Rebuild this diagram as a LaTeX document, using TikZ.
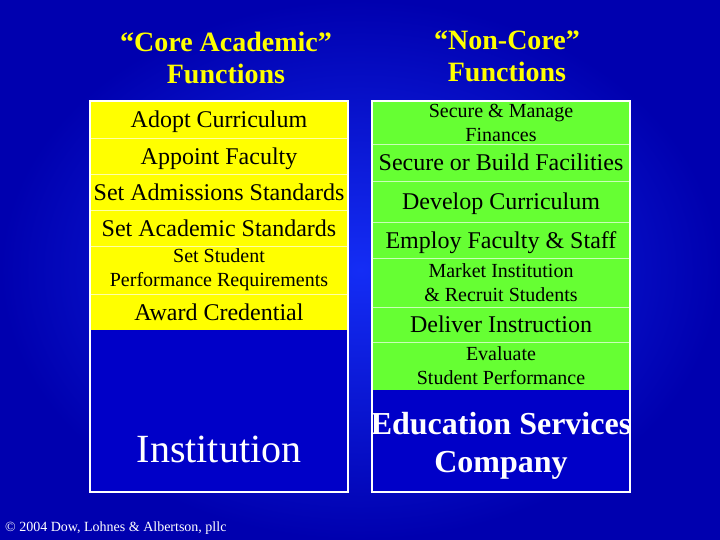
\documentclass[tikz,border=0pt]{standalone}
\usepackage{fontspec}
\setmainfont{Liberation Serif}
\usepackage{tikz}
\usetikzlibrary{positioning}
\usepackage{xcolor}
\definecolor{bgdark}{RGB}{0,0,175}
\definecolor{bglight}{RGB}{20,45,245}
\definecolor{boxblue}{RGB}{0,0,200}
\definecolor{coreyel}{RGB}{255,255,0}
\definecolor{noncore}{RGB}{102,255,51}
\tikzstyle{corerow} = [draw=coreyel!35!white, line width=0.8pt, fill=coreyel, minimum width=258pt, inner sep=0pt, outer sep=0pt, align=center, text=black]
\tikzstyle{ncrow} = [draw=noncore!35!white, line width=0.8pt, fill=noncore, minimum width=258pt, inner sep=0pt, outer sep=0pt, align=center, text=black]
\tikzstyle{bigrow} = [corerow, text depth=0pt, font=\fontsize{24}{28}\selectfont]
\tikzstyle{smallrow} = [corerow, font=\fontsize{20}{24}\selectfont]
\tikzstyle{ncbig} = [ncrow, text depth=0pt, font=\fontsize{24}{28}\selectfont]
\tikzstyle{ncsmall} = [ncrow, font=\fontsize{20}{24}\selectfont]
\tikzstyle{heading} = [text=coreyel, align=center, font=\fontsize{28}{32}\selectfont\bfseries]
\tikzstyle{outline} = [draw=white, line width=1.5pt]
\tikzstyle{bluebox} = [fill=boxblue, minimum width=258pt, inner sep=0pt, outer sep=0pt]

\begin{document}
\begin{tikzpicture}[x=1pt, y=-1pt]
% background
\useasboundingbox (0,0) rectangle (720,540);
\shade[inner color=bglight, outer color=bgdark] (0,0) rectangle (720,540);

% column headings
\node[heading] (hcore) at (226,58) {“Core Academic”\\Functions};
\node[heading] (hnon) at (507,56) {“Non-Core”\\Functions};

% core academic functions
\node[bigrow, minimum height=37pt, anchor=north] (c1) at (219,101) {Adopt Curriculum};
\node[bigrow, minimum height=36pt, below=0pt of c1] (c2) {Appoint Faculty};
\node[bigrow, minimum height=36pt, below=0pt of c2] (c3) {Set Admissions Standards};
\node[bigrow, minimum height=36pt, below=0pt of c3] (c4) {Set Academic Standards};
\node[smallrow, minimum height=48pt, below=0pt of c4] (c5) {Set Student\\Performance Requirements};
\node[bigrow, minimum height=36pt, below=0pt of c5] (c6) {Award Credential};
\node[bluebox, minimum height=162pt, below=0pt of c6] (inst) {};
\node[text=white, font=\fontsize{40}{44}\selectfont] (instlbl) at (219,449) {Institution};
\draw[outline] (c1.north west) rectangle (inst.south east);

% non-core functions
\node[ncsmall, minimum height=43pt, anchor=north] (n1) at (501,101) {Secure \& Manage\\Finances};
\node[ncbig, minimum height=37pt, below=0pt of n1] (n2) {Secure or Build Facilities};
\node[ncbig, minimum height=41pt, below=0pt of n2] (n3) {Develop Curriculum};
\node[ncbig, minimum height=36pt, below=0pt of n3] (n4) {Employ Faculty \& Staff};
\node[ncsmall, minimum height=49pt, below=0pt of n4] (n5) {Market Institution\\\& Recruit Students};
\node[ncbig, minimum height=35pt, below=0pt of n5] (n6) {Deliver Instruction};
\node[ncsmall, minimum height=48pt, below=0pt of n6] (n7) {Evaluate\\Student Performance};
\node[bluebox, minimum height=102pt, below=0pt of n7] (esc) {};
\node[text=white, align=center, font=\fontsize{32}{38}\selectfont\bfseries] (esclbl) at (501,446) {Education Services\\Company};
\draw[outline] (n1.north west) rectangle (esc.south east);

% footer
\node[anchor=west, text=white, inner sep=0pt, font=\fontsize{14}{16}\selectfont] (copy) at (5,528) {© 2004 Dow, Lohnes \& Albertson, pllc};
\end{tikzpicture}
\end{document}
